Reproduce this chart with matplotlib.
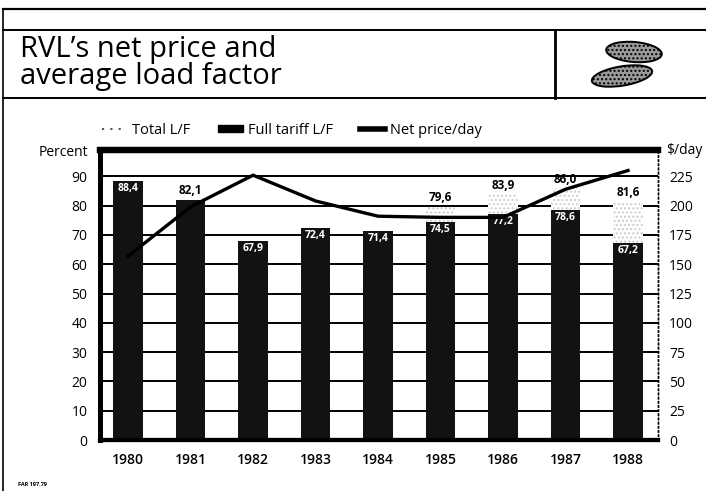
import numpy as np
import matplotlib
matplotlib.use("Agg")
import matplotlib.pyplot as plt
from matplotlib.lines import Line2D
from matplotlib.patches import Patch, Ellipse

plt.rcParams['font.family'] = ['Open Sans', 'DejaVu Sans']

# Données
annees = ['1980', '1981', '1982', '1983', '1984', '1985', '1986', '1987', '1988']
total_lf = [88.4, 82.1, 67.9, 72.4, 71.4, 79.6, 83.9, 86.0, 81.6]
plein_tarif_lf = [88.4, 82.1, 67.9, 72.4, 71.4, 74.5, 77.2, 78.6, 67.2]
prix_net_jour = [157, 199, 226, 204, 191, 190, 190, 214, 230]
# années où l'étiquette du total est écrite au-dessus de la barre
total_dessus = [False, True, False, False, False, True, True, True, True]

W, H = 706, 491
fig = plt.figure(figsize=(W / 100, H / 100), dpi=100)


def fx(px):
    return px / W


def fy(py):
    return 1 - py / H


# Cadre et boîte du titre
for (x0, y0, x1, y1, lw) in [
    (3, 9, 706, 9, 1.6),
    (3, 9, 3, 491, 1.2),
    (3, 30, 706, 30, 1.4),
    (3, 98, 706, 98, 1.4),
    (555, 30, 555, 98, 2.0),
]:
    fig.add_artist(Line2D([fx(x0), fx(x1)], [fy(y0), fy(y1)],
                          color='black', lw=lw, transform=fig.transFigure))

fig.text(fx(20), fy(63), "RVL\u2019s net price and\naverage load factor",
         fontsize=21, va='center', ha='left', linespacing=0.88)

# Logo approximatif
for (cx, cy, w, h, ang) in [(634, 52, 56, 20, -8), (622, 76, 62, 19, 15)]:
    fig.add_artist(Ellipse((fx(cx), fy(cy)), fx(w), h / H, angle=ang,
                           facecolor='#9a9a9a', edgecolor='black', lw=1.4,
                           hatch='....', transform=fig.transFigure))

# Axes
ax = fig.add_axes([fx(100), fy(440), fx(658) - fx(100), fy(150) - fy(440)])
x = np.arange(len(annees))
largeur = 0.47

ax.set_xlim(-0.45, 8.48)
ax.set_ylim(0, 99)

for v in range(10, 100, 10):
    ax.axhline(v, color='black', lw=1.4, zorder=1)

ax.bar(x, total_lf, largeur, facecolor='white', edgecolor='#cccccc',
       hatch='....', linewidth=0, zorder=2)
ax.bar(x, plein_tarif_lf, largeur, color='#121212', linewidth=0, zorder=3)

ax2 = ax.twinx()
ax2.set_ylim(0, 99 * 2.5)
ax2.plot(x, prix_net_jour, color='black', lw=2.4, zorder=5,
         solid_joinstyle='miter')

# Étiquettes des barres
for i in range(len(annees)):
    if total_dessus[i]:
        ax.text(x[i], total_lf[i] + 0.8, f"{total_lf[i]:.1f}".replace('.', ','),
                ha='center', va='bottom', fontsize=8.5, fontweight='bold',
                zorder=6)
    if i != 1:
        ax.text(x[i], plein_tarif_lf[i] - 0.8,
                f"{plein_tarif_lf[i]:.1f}".replace('.', ','),
                ha='center', va='top', fontsize=7.5, color='white',
                fontweight='bold', zorder=6)

ax.set_xticks(x)
ax.set_xticklabels(annees, fontsize=10, fontweight='semibold')
ax.set_yticks(range(0, 100, 10))
ax.set_yticklabels([str(v) for v in range(0, 100, 10)], fontsize=10)
ax2.set_yticks([v * 2.5 for v in range(0, 100, 10)])
ax2.set_yticklabels([str(int(v * 2.5)) for v in range(0, 100, 10)], fontsize=10)

ax.tick_params(axis='both', length=0, pad=9)
ax2.tick_params(axis='y', length=0, pad=8)

for a in (ax, ax2):
    a.spines['left'].set_linewidth(3.5)
    a.spines['top'].set_linewidth(4.5)
    a.spines['bottom'].set_linewidth(3.0)
    a.spines['right'].set_linewidth(1.0)
    a.spines['right'].set_linestyle((0, (1, 2)))
    a.set_facecolor('none')

fig.text(fx(88), fy(152), "Percent", ha='right', va='center', fontsize=10)
fig.text(fx(666), fy(150), "$/day", ha='left', va='center', fontsize=10)

poignees = [
    Line2D([], [], color='#555555', lw=1.5, linestyle=(0, (1, 3))),
    Patch(facecolor='black', edgecolor='black'),
    Line2D([], [], color='black', lw=4),
]
fig.legend(poignees, ["Total L/F", "Full tariff L/F", "Net price/day"],
           loc='center left', bbox_to_anchor=(fx(102), fy(130)),
           ncol=3, frameon=False, fontsize=10.5, handlelength=1.7,
           handleheight=0.35, columnspacing=1.9, handletextpad=0.35,
           borderpad=0, borderaxespad=0)

fig.text(fx(18), fy(484), "FAR 197.79", fontsize=4, fontweight='bold',
         va='center')

plt.savefig("out.png", dpi=100)
plt.close()
